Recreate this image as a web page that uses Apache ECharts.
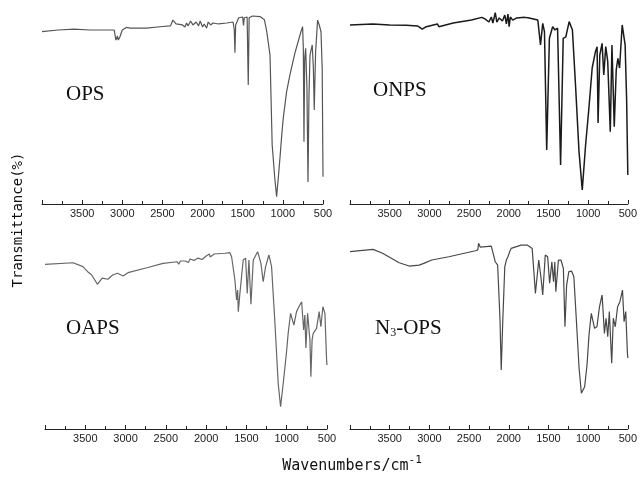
<!DOCTYPE html>
<html>
<head>
<meta charset="utf-8">
<script src="https://cdn.jsdelivr.net/npm/echarts@6/dist/echarts.min.js"></script>
<style>
  html, body { margin: 0; padding: 0; background: #fff; }
  #chart { width: 640px; height: 479px; }
</style>
</head>
<body>
<div id="chart"></div>
<script>
// FT-IR spectra: [wavenumber (cm-1), transmittance (arb. %)]
const opsSpectrum = [[4000,88.9],[3800,89.7],[3600,90.1],[3400,89.7],[3200,89.7],[3100,89.7],[3080,84.5],[3070,83.5],[3060,86.6],[3050,84.5],[3030,86.1],[3000,89.7],[2950,91.0],[2900,90.7],[2700,90.7],[2500,91.5],[2400,91.8],[2370,94.8],[2330,92.8],[2250,92.3],[2220,91.2],[2200,93.3],[2180,91.8],[2150,94.3],[2120,92.3],[2080,93.8],[2050,91.8],[2030,94.3],[2000,91.2],[1980,92.8],[1950,90.7],[1930,93.8],[1900,92.3],[1870,93.3],[1800,92.8],[1700,93.3],[1620,93.8],[1605,89.7],[1597,78.0],[1588,92.3],[1550,96.0],[1500,96.4],[1490,92.0],[1480,96.0],[1445,96.4],[1431,61.3],[1420,96.0],[1380,96.9],[1285,96.6],[1230,95.0],[1202,89.2],[1160,76.8],[1133,30.4],[1100,13.0],[1078,3.8],[1060,12.0],[1036,23.7],[1015,35.0],[995,44.3],[953,57.9],[912,66.5],[850,77.8],[775,88.8],[754,91.4],[745,80.0],[737,32.1],[728,75.0],[716,80.3],[700,60.0],[687,11.3],[675,55.0],[662,76.8],[634,82.0],[620,70.0],[609,48.5],[600,65.0],[592,78.5],[567,94.8],[545,92.0],[525,88.8],[510,70.0],[500,14.0]];

const onpsSpectrum = [[4000,92.3],[3713,92.8],[3500,92.3],[3290,92.1],[3150,91.8],[3090,90.1],[3050,91.2],[3030,91.8],[2900,92.8],[2880,91.4],[2860,92.3],[2700,93.3],[2470,94.8],[2340,96.2],[2300,95.4],[2250,93.8],[2220,96.4],[2200,93.3],[2170,98.6],[2150,93.8],[2120,95.9],[2080,94.3],[2050,97.4],[2030,92.8],[2010,97.9],[1995,91.4],[1980,96.4],[1950,94.8],[1900,95.9],[1800,96.2],[1758,96.0],[1634,94.8],[1600,82.0],[1572,93.1],[1550,88.8],[1522,27.8],[1488,85.4],[1447,91.4],[1418,89.7],[1385,90.6],[1347,20.1],[1314,85.4],[1281,86.2],[1239,94.0],[1198,89.7],[1157,59.8],[1115,27.0],[1074,7.2],[1032,30.4],[990,49.5],[949,70.1],[908,78.5],[887,81.1],[875,41.8],[853,76.8],[824,82.8],[803,66.5],[778,81.1],[753,73.4],[721,37.3],[700,82.0],[671,39.8],[646,69.1],[625,75.1],[604,70.1],[571,92.3],[534,82.0],[515,53.6],[500,14.9]];

const oapsSpectrum = [[4000,84.9],[3650,85.7],[3530,83.7],[3470,81.1],[3420,79.4],[3350,74.6],[3290,77.8],[3220,77.2],[3160,79.4],[3100,80.3],[3030,78.9],[2970,80.6],[2735,83.1],[2535,85.4],[2360,86.2],[2340,84.9],[2320,86.6],[2260,86.6],[2220,85.8],[2200,87.6],[2150,86.9],[2100,88.1],[2050,87.4],[2000,89.2],[1960,90.2],[1950,88.7],[1900,90.2],[1767,90.6],[1705,90.9],[1684,88.8],[1643,76.8],[1622,66.5],[1609,71.6],[1601,60.5],[1581,69.9],[1540,87.1],[1510,88.0],[1490,69.9],[1469,87.1],[1444,64.3],[1415,87.1],[1361,91.4],[1320,85.4],[1292,75.9],[1262,83.7],[1221,89.7],[1188,83.7],[1146,54.5],[1106,23.6],[1076,11.5],[1043,23.6],[1002,39.8],[982,49.3],[952,59.6],[911,53.6],[878,60.5],[849,63.0],[815,65.6],[790,51.0],[775,58.8],[762,41.8],[741,59.6],[712,45.9],[700,27.0],[685,45.9],[671,49.3],[630,51.9],[597,60.5],[576,52.7],[551,63.0],[526,59.6],[505,35.6],[500,33.0]];

const n3opsSpectrum = [[4000,91.4],[3710,92.6],[3590,90.6],[3380,85.7],[3255,84.0],[3130,84.5],[3070,85.4],[3045,84.5],[2970,87.1],[2755,88.8],[2420,91.9],[2390,92.3],[2380,95.7],[2360,93.8],[2340,94.3],[2220,94.3],[2170,86.2],[2140,84.5],[2110,56.2],[2095,30.4],[2075,56.2],[2050,83.7],[2030,87.1],[2010,88.8],[1990,91.2],[1970,93.1],[1845,94.8],[1767,94.8],[1705,93.1],[1664,69.9],[1622,87.1],[1593,77.7],[1572,69.1],[1540,89.7],[1510,88.8],[1485,75.1],[1457,86.2],[1436,75.9],[1420,86.1],[1407,70.8],[1374,87.1],[1342,87.1],[1312,82.8],[1292,52.7],[1271,74.2],[1243,81.1],[1209,81.4],[1180,78.5],[1147,55.3],[1114,31.3],[1085,18.4],[1044,21.8],[1014,33.0],[989,48.5],[960,59.6],[919,51.9],[889,52.7],[857,63.0],[824,69.1],[795,49.3],[774,57.1],[753,47.6],[733,60.5],[703,33.9],[683,57.1],[658,52.7],[629,63.0],[600,65.6],[567,71.6],[547,55.3],[526,60.5],[505,39.0],[500,36.6]];

const panelNames = ['OPS', 'ONPS', 'OAPS', 'N3-OPS'];
const wavenumberRange = [500, 4000];
const tickStep = 500;

const chart = echarts.init(document.getElementById('chart'), null, { renderer: 'canvas' });

const grids = [
  { left: 42, top: 10, width: 281, height: 194 },
  { left: 350, top: 10, width: 282, height: 194 },
  { left: 45, top: 235, width: 282, height: 194 },
  { left: 350, top: 235, width: 282, height: 194 }
];

const spectra = [opsSpectrum, onpsSpectrum, oapsSpectrum, n3opsSpectrum];
const lineColors = ['#555', '#1a1a1a', '#666', '#484848'];
const lineWidths = [1.2, 1.5, 1.2, 1.2];

const xAxes = grids.map((g, i) => ({
  type: 'value',
  gridIndex: i,
  min: wavenumberRange[0],
  max: wavenumberRange[1],
  interval: tickStep,
  inverse: true,
  axisLine: { show: true, lineStyle: { color: '#222', width: 1 } },
  axisTick: { show: true, inside: true, length: 4, lineStyle: { color: '#222' } },
  minorTick: { show: true, splitNumber: 2, length: 3, lineStyle: { color: '#222' } },
  splitLine: { show: false },
  axisLabel: {
    margin: 4,
    fontSize: 11,
    fontFamily: 'Liberation Sans, Arial, sans-serif',
    color: '#222',
    formatter: v => (v === wavenumberRange[1] ? '' : String(v))
  }
}));

const yAxes = grids.map((g, i) => ({
  type: 'value', gridIndex: i, min: 0, max: 100, show: false
}));

const series = spectra.map((data, i) => ({
  type: 'line',
  name: panelNames[i],
  xAxisIndex: i,
  yAxisIndex: i,
  data: data,
  showSymbol: false,
  silent: true,
  animation: false,
  lineStyle: { color: lineColors[i], width: lineWidths[i] }
}));

const serif = 'Liberation Serif, Times New Roman, serif';
const mono = 'DejaVu Sans Mono, monospace';

const labelPositions = [[66, 96], [373, 92], [66, 330], [375, 330]];

const panelLabels = panelNames.map((name, i) => {
  const isAzide = name === 'N3-OPS';
  return {
    type: 'text',
    left: labelPositions[i][0],
    top: labelPositions[i][1] - 12,
    style: {
      text: isAzide ? '{n|N}{s|3}{n|-OPS}' : name,
      font: '21px ' + serif,
      fill: '#111',
      rich: isAzide ? {
        n: { fontFamily: serif, fontSize: 21, fill: '#111' },
        s: { fontFamily: serif, fontSize: 12, fill: '#111', padding: [8, 0, 0, 0] }
      } : undefined
    }
  };
});

chart.setOption({
  backgroundColor: '#fff',
  animation: false,
  grid: grids,
  xAxis: xAxes,
  yAxis: yAxes,
  series: series,
  graphic: panelLabels.concat([
    {
      type: 'text',
      x: 18,
      y: 220,
      rotation: Math.PI / 2,
      style: {
        text: 'Transmittance(%)',
        font: '14px ' + mono,
        fill: '#111',
        align: 'center',
        verticalAlign: 'middle'
      }
    },
    {
      type: 'text',
      x: 352,
      y: 466,
      style: {
        text: 'Wavenumbers/cm{sup|-1}',
        font: '15px ' + mono,
        fill: '#111',
        align: 'center',
        verticalAlign: 'middle',
        rich: {
          sup: { fontFamily: mono, fontSize: 11, fill: '#111', padding: [0, 0, 12, 0] }
        }
      }
    }
  ])
});
</script>
</body>
</html>
